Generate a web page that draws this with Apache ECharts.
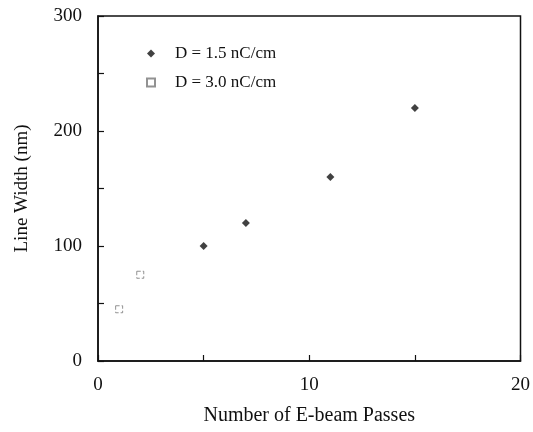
<!DOCTYPE html>
<html>
<head>
<meta charset="utf-8">
<script src="https://cdn.jsdelivr.net/npm/echarts@6/dist/echarts.min.js"></script>
<style>html,body{margin:0;padding:0;background:#fff;}#c{width:533px;height:432px;}</style>
</head>
<body>
<div id="c"></div>
<script>
const series1Name = 'D = 1.5 nC/cm';
const series1X = [5, 7, 11, 15];
const series1Y = [100, 120, 160, 220];
const series2Name = 'D = 3.0 nC/cm';
const series2X = [1, 2];
const series2Y = [45, 75];
const xTickLabels = [0, 10, 20];
const yTickLabels = [0, 100, 200, 300];

const font = '"Liberation Serif", "Times New Roman", serif';
const chart = echarts.init(document.getElementById('c'));
chart.setOption({
  animation: false,
  backgroundColor: '#fff',
  grid: { left: 98, right: 11, top: 16, bottom: 71, show: true, borderColor: '#111', borderWidth: 1.5, backgroundColor: 'transparent' },
  legend: {
    orient: 'vertical', left: 141, top: 40, itemGap: 12, itemWidth: 8, itemHeight: 8,
    textStyle: { fontFamily: font, fontSize: 17, color: '#111', padding: [0, 0, 0, 15] },
    data: [series1Name, series2Name]
  },
  xAxis: {
    type: 'value', min: 0, max: 20, interval: 5,
    name: 'Number of E-beam Passes', nameLocation: 'middle', nameGap: 45,
    nameTextStyle: { fontFamily: font, fontSize: 20, color: '#111' },
    axisLine: { lineStyle: { color: '#111', width: 1.5 } },
    axisTick: { inside: true, length: 6, lineStyle: { color: '#111', width: 1.2 } },
    splitLine: { show: false },
    axisLabel: { fontFamily: font, fontSize: 19, color: '#111', margin: 15,
      formatter: v => xTickLabels.indexOf(v) >= 0 ? String(v) : '' }
  },
  yAxis: {
    type: 'value', min: 0, max: 300, interval: 50,
    name: 'Line Width (nm)', nameLocation: 'middle', nameGap: 66, nameRotate: 90,
    nameTextStyle: { fontFamily: font, fontSize: 19, color: '#111' },
    axisLine: { lineStyle: { color: '#111', width: 1.5 } },
    axisTick: { inside: true, length: 6, lineStyle: { color: '#111', width: 1.2 } },
    splitLine: { show: false },
    axisLabel: { fontFamily: font, fontSize: 19, color: '#111', margin: 16,
      formatter: v => yTickLabels.indexOf(v) >= 0 ? String(v) : '' }
  },
  series: [
    {
      name: series1Name, type: 'scatter', symbol: 'diamond', symbolSize: 8,
      itemStyle: { color: '#111' },
      data: series1X.map((x, i) => [x, series1Y[i]])
    },
    {
      name: series2Name, type: 'scatter', symbol: 'rect', symbolSize: 7,
      itemStyle: { color: '#fff', borderColor: '#777', borderWidth: 1, borderType: 'dashed' },
      data: series2X.map((x, i) => [x, series2Y[i]])
    }
  ]
});
</script>
</body>
</html>
